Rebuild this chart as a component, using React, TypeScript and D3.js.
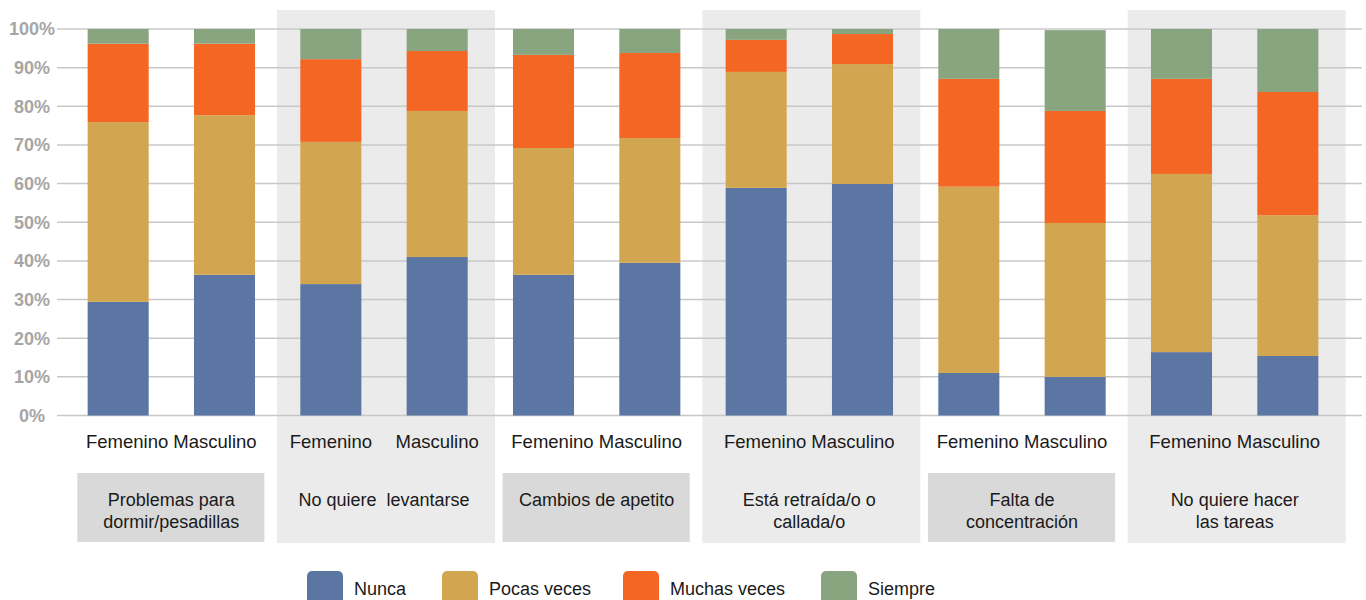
import React, { useEffect } from "react";
import * as d3 from "d3";

const categories: string[][] = [
  ["Problemas para", "dormir/pesadillas"],
  ["No quiere  levantarse"],
  ["Cambios de apetito"],
  ["Está retraída/o o", "callada/o"],
  ["Falta de", "concentración"],
  ["No quiere hacer", "las tareas"],
];
const genders = ["Femenino", "Masculino"];
const seriesNames = ["Nunca", "Pocas veces", "Muchas veces", "Siempre"];
const colors = ["#5b76a2", "#d2a650", "#f36624", "#89a580"];

// values per bar (category x gender), in %
const nunca = [29.4, 36.4, 34.0, 41.0, 36.4, 39.5, 58.9, 59.9, 11.0, 10.0, 16.4, 15.4];
const pocas = [46.5, 41.3, 36.8, 37.8, 32.8, 32.3, 30.0, 31.0, 48.2, 39.8, 46.1, 36.4];
const muchas = [20.3, 18.5, 21.4, 15.5, 24.1, 22.0, 8.3, 7.8, 27.9, 29.0, 24.6, 31.9];
const siempre = [3.8, 3.8, 7.8, 5.7, 6.7, 6.2, 2.8, 1.3, 12.9, 20.9, 12.9, 16.3];
const yTicks = [0, 10, 20, 30, 40, 50, 60, 70, 80, 90, 100];
const separateSubLabels = [false, true, false, false, false, false];

export default function App() {
  useEffect(() => {
    document.body.style.margin = "0";
  }, []);

  const bars = categories.flatMap((c, ci) =>
    genders.map((g, gi) => ({ key: `${ci}-${gi}`, ci, gi }))
  );
  const x = d3
    .scaleBand<string>()
    .domain(bars.map((b) => b.key))
    .range([65, 1341])
    .paddingInner(0.426)
    .paddingOuter(0.213);
  const y = d3.scaleLinear().domain([0, 100]).range([415.5, 29]);
  const step = x.step();
  const bw = x.bandwidth();

  const table = bars.map((b, i) => ({
    key: b.key,
    Nunca: nunca[i],
    "Pocas veces": pocas[i],
    "Muchas veces": muchas[i],
    Siempre: siempre[i],
  }));
  const stacked = d3.stack<any>().keys(seriesNames)(table);

  const groupCenter = (ci: number) =>
    ((x(`${ci}-0`) as number) + (x(`${ci}-1`) as number) + bw) / 2;

  const font = "'Liberation Sans', Arial, sans-serif";
  const legendX = [307, 442, 623, 821];

  return (
    <svg width={1366} height={600} style={{ display: "block" }} fontFamily={font}>
      <rect x={0} y={0} width={1366} height={600} fill="#ffffff" />
      {categories.map((c, ci) => {
        const cx = groupCenter(ci);
        return ci % 2 === 1 ? (
          <rect key={ci} x={cx + 2 - step * 1.025} y={10} width={step * 2.05} height={533} fill="#ebebeb" />
        ) : (
          <rect key={ci} x={cx - 0.5 - step * 0.88} y={473} width={step * 1.76} height={69} fill="#d9d9d9" />
        );
      })}
      {yTicks.map((t) => (
        <g key={t}>
          <line x1={57} x2={1362} y1={y(t)} y2={y(t)} stroke="#c8c8c8" strokeWidth={1.5} />
          <text x={32} y={y(t)} dy="0.35em" textAnchor="middle" fontSize={18} fontWeight="bold" fill="#a6a6a6">
            {t}%
          </text>
        </g>
      ))}
      {stacked.map((s, si) => (
        <g key={si} fill={colors[si]}>
          {s.map((d, i) => (
            <rect
              key={i}
              x={x(table[i].key)}
              y={y(d[1])}
              width={bw}
              height={y(d[0]) - y(d[1])}
            />
          ))}
        </g>
      ))}
      {categories.map((c, ci) => {
        const cx = groupCenter(ci);
        return (
          <g key={ci} fill="#1a1a1a" textAnchor="middle">
            {separateSubLabels[ci] ? (
              genders.map((g, gi) => (
                <text key={gi} x={(x(`${ci}-${gi}`) as number) + bw / 2} y={448} fontSize={18.5}>
                  {g}
                </text>
              ))
            ) : (
              <text x={cx} y={448} fontSize={18.5}>{genders.join(" ")}</text>
            )}
            {c.map((line, li) => (
              <text key={li} x={cx} y={506 + li * 22} fontSize={18} style={{ whiteSpace: "pre" }}>
                {line}
              </text>
            ))}
          </g>
        );
      })}
      {seriesNames.map((s, si) => (
        <g key={s}>
          <rect x={legendX[si]} y={571} width={36} height={40} rx={5} fill={colors[si]} />
          <text x={legendX[si] + 47} y={595} fontSize={18} fill="#1a1a1a">
            {s}
          </text>
        </g>
      ))}
    </svg>
  );
}
